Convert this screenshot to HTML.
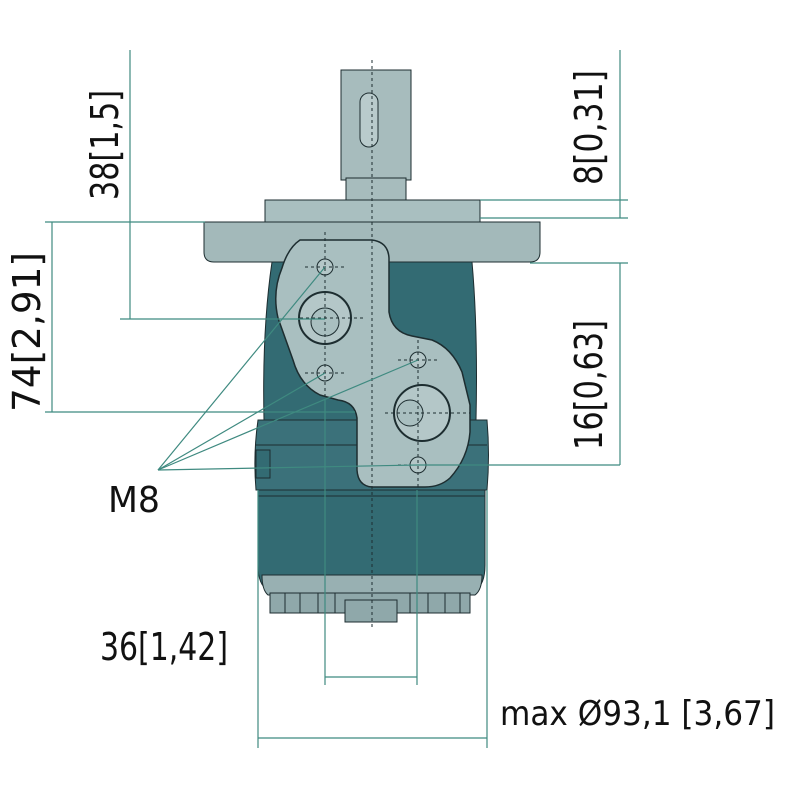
<!DOCTYPE html>
<html><head><meta charset="utf-8"><style>html,body{margin:0;padding:0;background:#fff}svg{display:block}</style></head>
<body>
<svg width="800" height="800" viewBox="0 0 800 800" xmlns="http://www.w3.org/2000/svg" font-family="'DejaVu Sans Condensed','DejaVu Sans','Liberation Sans',sans-serif">
<rect width="800" height="800" fill="#fff"/>
<!-- body -->
<g stroke="#1d2d30" stroke-width="1">
<!-- shaft -->
<rect x="341" y="70" width="70" height="110" fill="#a7bcbd"/>
<rect x="346" y="178" width="60" height="22" fill="#a7bcbd"/>
<rect x="360" y="93" width="18" height="54" rx="9" fill="#b9cbcc"/>
<!-- flange -->
<rect x="265" y="200" width="215" height="24" fill="#a9bfc0"/>
<path d="M204 222 H540 V252 Q540 262 530 262 H470 L460 270 H285 L275 262 H214 Q204 262 204 252 Z" fill="#a3b9ba"/>
<!-- upper body -->
<path d="M272 262 H472 Q478 330 476 420 H264 Q262 330 272 262 Z" fill="#336b73"/>
<!-- band -->
<path d="M258 420 H487 Q490 455 487 490 H256 Q253 455 258 420Z" fill="#3b717a"/>
<line x1="256" y1="445" x2="487" y2="445"/>
<rect x="256" y="450" width="14" height="28" fill="#336b73"/>
<!-- lower body -->
<path d="M258 490 H485 V565 Q485 585 475 590 H268 Q258 585 258 565 Z" fill="#336b73"/>
<line x1="258" y1="496" x2="485" y2="496"/>
<path d="M262 575 H482 Q482 590 475 595 H268 Q262 590 262 575Z" fill="#98b0b2"/>
<!-- bolts -->
<rect x="270" y="593" width="200" height="20" fill="#8fa8aa"/>
<g fill="none"><path d="M285 593v20M300 593v20M318 593v20M335 593v20M410 593v20M428 593v20M445 593v20M460 593v20"/></g>
<rect x="345" y="600" width="52" height="22" fill="#8fa8aa"/>
<!-- port plate -->
<path d="M300 240 H372 Q388 242 389 258 V312 Q392 332 412 336 L432 340 Q452 348 462 372 L470 405 V432 Q468 458 450 478 Q440 487 425 487 H372 Q358 486 357 470 V418 Q355 402 338 400 L320 395 Q300 385 293 360 L278 318 Q272 292 282 268 Q288 248 300 240 Z" fill="#a9bfc0" stroke-width="1.5"/>
<circle cx="325" cy="267" r="8" fill="#b4c7c8"/>
<circle cx="325" cy="373" r="8" fill="#b4c7c8"/>
<circle cx="418" cy="360" r="8" fill="#b4c7c8"/>
<circle cx="418" cy="465" r="8" fill="#b4c7c8"/>
<circle cx="325" cy="318" r="26" fill="#b4c7c8" stroke-width="2"/>
<circle cx="325" cy="322" r="14" fill="#a9bfc0"/>
<circle cx="422" cy="413" r="28" fill="#b4c7c8" stroke-width="2"/>
<circle cx="410" cy="413" r="13" fill="#a9bfc0"/>
</g>
<!-- center lines -->
<g stroke="#1d2d30" stroke-width="1" stroke-dasharray="3,3" fill="none">
<line x1="372" y1="60" x2="372" y2="630"/>
<line x1="325" y1="232" x2="325" y2="400"/>
<line x1="418" y1="340" x2="418" y2="490"/>
<line x1="305" y1="267" x2="345" y2="267"/>
<line x1="300" y1="318" x2="365" y2="318"/>
<line x1="305" y1="373" x2="345" y2="373"/>
<line x1="398" y1="360" x2="438" y2="360"/>
<line x1="385" y1="413" x2="470" y2="413"/>
<line x1="398" y1="465" x2="438" y2="465"/>
</g>
<!-- dimension lines -->
<g stroke="#3f8a80" stroke-width="1.2" fill="none">
<line x1="130" y1="50" x2="130" y2="319"/>
<line x1="120" y1="319" x2="325" y2="319"/>
<line x1="45" y1="222" x2="205" y2="222"/>
<line x1="52" y1="222" x2="52" y2="412"/>
<line x1="45" y1="412" x2="355" y2="412"/>
<line x1="480" y1="200" x2="628" y2="200"/>
<line x1="480" y1="218" x2="628" y2="218"/>
<line x1="530" y1="263" x2="628" y2="263"/>
<line x1="620" y1="50" x2="620" y2="218"/>
<line x1="620" y1="263" x2="620" y2="465"/>
<line x1="418" y1="465" x2="620" y2="465"/>
<line x1="158" y1="470" x2="325" y2="267"/>
<line x1="158" y1="470" x2="325" y2="373"/>
<line x1="158" y1="470" x2="418" y2="360"/>
<line x1="158" y1="470" x2="418" y2="465"/>
<line x1="325" y1="400" x2="325" y2="685"/>
<line x1="417" y1="490" x2="417" y2="685"/>
<line x1="325" y1="677" x2="417" y2="677"/>
<line x1="258" y1="490" x2="258" y2="748"/>
<line x1="487" y1="490" x2="487" y2="748"/>
<line x1="258" y1="738" x2="487" y2="738"/>
</g>
<g fill="#111" font-size="38">
<text transform="translate(118,200) rotate(-90)" textLength="110" lengthAdjust="spacingAndGlyphs">38[1,5]</text>
<text transform="translate(40,412) rotate(-90)" textLength="160" lengthAdjust="spacingAndGlyphs">74[2,91]</text>
<text transform="translate(602,185) rotate(-90)" textLength="115" lengthAdjust="spacingAndGlyphs">8[0,31]</text>
<text transform="translate(602,450) rotate(-90)" textLength="130" lengthAdjust="spacingAndGlyphs">16[0,63]</text>
<text x="108" y="512" font-size="36" textLength="52" lengthAdjust="spacingAndGlyphs">M8</text>
<text x="100" y="660" textLength="128" lengthAdjust="spacingAndGlyphs">36[1,42]</text>
<text x="500" y="725" font-size="34" textLength="275" lengthAdjust="spacingAndGlyphs">max Ø93,1 [3,67]</text>
</g>
</svg>
</body></html>
